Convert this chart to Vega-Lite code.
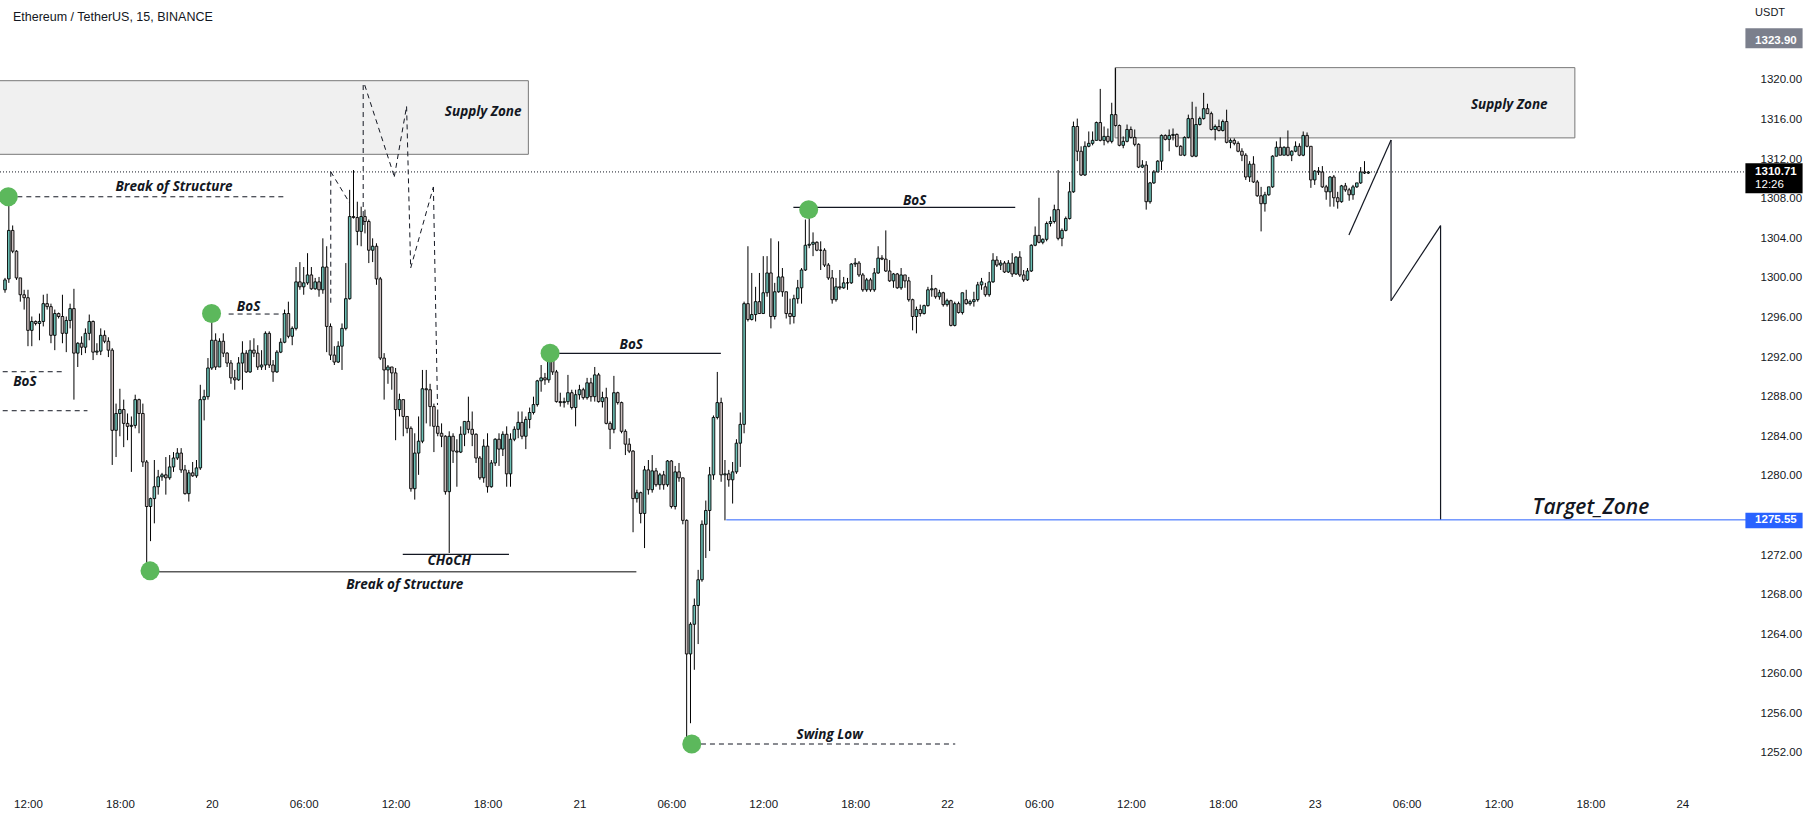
{
"$schema":"https://vega.github.io/schema/vega-lite/v6.json",
"width":1750,"height":790,
"autosize":{"type":"none"},
"padding":{"left":0,"top":0,"right":64,"bottom":28},
"background":"#ffffff",
"config":{"view":{"stroke":null},
 "axis":{"domain":false,"ticks":false,"grid":false,"labelFont":"Liberation Sans","labelFontSize":11.5,"labelColor":"#131722"},
 "axisX":{"labelPadding":8,"labelFlush":false,"labelOverlap":false,"labelAngle":0},
 "axisY":{"labelPadding":10}},
"layer":[
{"data":{"values":[{"t":"2022-10-19 06:00","t2":"2022-10-20 20:40","p":1319.93,"p2":1312.49},{"t":"2022-10-22 10:58","t2":"2022-10-23 16:59","p":1321.25,"p2":1314.15}],"format":{"parse":{"t":"utc:'%Y-%m-%d %H:%M'","t2":"utc:'%Y-%m-%d %H:%M'"}}},
 "mark":{"type":"rect","fill":"#f0f0f0","stroke":"#787878","strokeWidth":1,"clip":true},
 "encoding":{"x":{"field":"t","type":"temporal","scale":{"type":"utc","domain":[{"year":2022,"month":"oct","date":19,"hours":10,"minutes":30,"utc":true},{"year":2022,"month":"oct","date":24,"hours":4,"minutes":5,"seconds":24,"utc":true}]},
   "axis":{"orient":"bottom","title":null,"values":[1666180800000,1666202400000,1666224000000,1666245600000,1666267200000,1666288800000,1666310400000,1666332000000,1666353600000,1666375200000,1666396800000,1666418400000,1666440000000,1666461600000,1666483200000,1666504800000,1666526400000,1666548000000,1666569600000],"labelExpr":"utchours(datum.value) == 0 ? utcFormat(datum.value, '%d') : utcFormat(datum.value, '%H:%M')"}},
  "x2":{"field":"t2"},
  "y":{"field":"p","type":"quantitative","scale":{"domain":[1248.253,1328.084],"zero":false,"nice":false},"axis":{"orient":"right","title":null,"values":[1252,1256,1260,1264,1268,1272,1280,1284,1288,1292,1296,1300,1304,1308,1312,1316,1320],"format":".2f"}},
  "y2":{"field":"p2"}}},
{"data":{"values":[{}]},"mark":{"type":"rule","color":"#131722","strokeDash":[1,2],"strokeWidth":1},
 "encoding":{"y":{"datum":1310.71,"type":"quantitative"}}},
{"data":{"values":[
{"t":"2022-10-19 10:30","o":1298.8,"h":1300.0,"l":1298.5,"c":1299.8},
{"t":"2022-10-19 10:45","o":1299.9,"h":1308.2,"l":1299.5,"c":1304.8},
{"t":"2022-10-19 11:00","o":1304.8,"h":1305.3,"l":1302.5,"c":1302.7},
{"t":"2022-10-19 11:15","o":1302.7,"h":1302.8,"l":1299.8,"c":1300.0},
{"t":"2022-10-19 11:30","o":1300.0,"h":1300.0,"l":1297.6,"c":1298.3},
{"t":"2022-10-19 11:45","o":1298.3,"h":1298.8,"l":1296.8,"c":1298.0},
{"t":"2022-10-19 12:00","o":1298.0,"h":1298.8,"l":1293.1,"c":1294.7},
{"t":"2022-10-19 12:15","o":1294.7,"h":1296.1,"l":1293.1,"c":1295.6},
{"t":"2022-10-19 12:30","o":1295.6,"h":1295.7,"l":1295.2,"c":1295.4},
{"t":"2022-10-19 12:45","o":1295.4,"h":1296.4,"l":1293.7,"c":1295.6},
{"t":"2022-10-19 13:00","o":1295.6,"h":1298.3,"l":1295.1,"c":1297.4},
{"t":"2022-10-19 13:15","o":1297.4,"h":1298.4,"l":1296.8,"c":1297.1},
{"t":"2022-10-19 13:30","o":1297.1,"h":1297.4,"l":1293.4,"c":1294.2},
{"t":"2022-10-19 13:45","o":1294.2,"h":1296.8,"l":1292.7,"c":1296.4},
{"t":"2022-10-19 14:00","o":1296.4,"h":1296.5,"l":1295.9,"c":1296.1},
{"t":"2022-10-19 14:15","o":1296.1,"h":1298.3,"l":1293.4,"c":1294.4},
{"t":"2022-10-19 14:30","o":1294.4,"h":1296.1,"l":1292.5,"c":1295.7},
{"t":"2022-10-19 14:45","o":1295.7,"h":1297.4,"l":1294.9,"c":1296.9},
{"t":"2022-10-19 15:00","o":1296.9,"h":1298.9,"l":1287.7,"c":1292.4},
{"t":"2022-10-19 15:15","o":1292.4,"h":1293.5,"l":1291.0,"c":1293.4},
{"t":"2022-10-19 15:30","o":1293.4,"h":1294.1,"l":1292.2,"c":1293.0},
{"t":"2022-10-19 15:45","o":1293.0,"h":1294.9,"l":1292.4,"c":1294.4},
{"t":"2022-10-19 16:00","o":1294.4,"h":1296.3,"l":1293.7,"c":1295.6},
{"t":"2022-10-19 16:15","o":1295.6,"h":1295.7,"l":1291.7,"c":1292.5},
{"t":"2022-10-19 16:30","o":1292.5,"h":1293.4,"l":1292.2,"c":1292.6},
{"t":"2022-10-19 16:45","o":1292.6,"h":1294.9,"l":1292.2,"c":1294.2},
{"t":"2022-10-19 17:00","o":1294.2,"h":1294.7,"l":1293.4,"c":1293.6},
{"t":"2022-10-19 17:15","o":1293.6,"h":1294.0,"l":1292.0,"c":1292.7},
{"t":"2022-10-19 17:30","o":1292.7,"h":1292.9,"l":1281.1,"c":1284.6},
{"t":"2022-10-19 17:45","o":1284.6,"h":1287.3,"l":1281.9,"c":1286.3},
{"t":"2022-10-19 18:00","o":1286.3,"h":1288.8,"l":1284.0,"c":1286.7},
{"t":"2022-10-19 18:15","o":1286.7,"h":1287.7,"l":1282.9,"c":1285.3},
{"t":"2022-10-19 18:30","o":1285.3,"h":1286.3,"l":1283.6,"c":1285.0},
{"t":"2022-10-19 18:45","o":1285.0,"h":1286.0,"l":1280.4,"c":1285.1},
{"t":"2022-10-19 19:00","o":1285.1,"h":1288.2,"l":1284.8,"c":1287.7},
{"t":"2022-10-19 19:15","o":1287.7,"h":1287.8,"l":1284.3,"c":1286.3},
{"t":"2022-10-19 19:30","o":1286.3,"h":1287.3,"l":1280.9,"c":1281.4},
{"t":"2022-10-19 19:45","o":1281.4,"h":1281.6,"l":1270.5,"c":1276.9},
{"t":"2022-10-19 20:00","o":1276.9,"h":1277.8,"l":1273.4,"c":1277.7},
{"t":"2022-10-19 20:15","o":1277.7,"h":1281.6,"l":1275.2,"c":1278.9},
{"t":"2022-10-19 20:30","o":1278.9,"h":1280.6,"l":1278.1,"c":1279.9},
{"t":"2022-10-19 20:45","o":1279.9,"h":1280.3,"l":1279.5,"c":1280.1},
{"t":"2022-10-19 21:00","o":1280.1,"h":1281.9,"l":1278.1,"c":1279.8},
{"t":"2022-10-19 21:15","o":1279.8,"h":1282.1,"l":1279.6,"c":1280.9},
{"t":"2022-10-19 21:30","o":1280.9,"h":1282.4,"l":1280.4,"c":1281.8},
{"t":"2022-10-19 21:45","o":1281.8,"h":1282.8,"l":1281.6,"c":1282.3},
{"t":"2022-10-19 22:00","o":1282.3,"h":1282.8,"l":1280.3,"c":1280.6},
{"t":"2022-10-19 22:15","o":1280.6,"h":1281.1,"l":1278.1,"c":1278.2},
{"t":"2022-10-19 22:30","o":1278.2,"h":1280.6,"l":1277.4,"c":1280.3},
{"t":"2022-10-19 22:45","o":1280.3,"h":1281.4,"l":1279.9,"c":1280.0},
{"t":"2022-10-19 23:00","o":1280.0,"h":1281.6,"l":1279.8,"c":1280.8},
{"t":"2022-10-19 23:15","o":1280.8,"h":1289.2,"l":1280.6,"c":1287.7},
{"t":"2022-10-19 23:30","o":1287.7,"h":1288.7,"l":1285.6,"c":1288.0},
{"t":"2022-10-19 23:45","o":1288.0,"h":1291.9,"l":1287.7,"c":1290.9},
{"t":"2022-10-20 00:00","o":1290.9,"h":1296.4,"l":1290.7,"c":1293.7},
{"t":"2022-10-20 00:15","o":1293.7,"h":1294.4,"l":1290.7,"c":1291.0},
{"t":"2022-10-20 00:30","o":1291.0,"h":1293.9,"l":1291.0,"c":1293.6},
{"t":"2022-10-20 00:45","o":1293.6,"h":1294.4,"l":1292.0,"c":1292.4},
{"t":"2022-10-20 01:00","o":1292.4,"h":1292.5,"l":1291.0,"c":1291.4},
{"t":"2022-10-20 01:15","o":1291.4,"h":1291.7,"l":1289.3,"c":1289.9},
{"t":"2022-10-20 01:30","o":1289.9,"h":1290.7,"l":1288.7,"c":1289.7},
{"t":"2022-10-20 01:45","o":1289.7,"h":1292.0,"l":1289.6,"c":1291.4},
{"t":"2022-10-20 02:00","o":1291.4,"h":1293.6,"l":1288.7,"c":1292.4},
{"t":"2022-10-20 02:15","o":1292.4,"h":1292.7,"l":1290.4,"c":1290.5},
{"t":"2022-10-20 02:30","o":1290.5,"h":1293.7,"l":1290.4,"c":1292.7},
{"t":"2022-10-20 02:45","o":1292.7,"h":1293.9,"l":1292.0,"c":1292.4},
{"t":"2022-10-20 03:00","o":1292.4,"h":1293.2,"l":1290.7,"c":1291.0},
{"t":"2022-10-20 03:15","o":1291.0,"h":1292.7,"l":1290.7,"c":1291.2},
{"t":"2022-10-20 03:30","o":1291.2,"h":1294.6,"l":1290.7,"c":1294.4},
{"t":"2022-10-20 03:45","o":1294.4,"h":1294.6,"l":1290.9,"c":1291.2},
{"t":"2022-10-20 04:00","o":1291.2,"h":1291.7,"l":1289.5,"c":1290.5},
{"t":"2022-10-20 04:15","o":1290.5,"h":1292.7,"l":1290.4,"c":1292.5},
{"t":"2022-10-20 04:30","o":1292.5,"h":1293.9,"l":1292.4,"c":1293.5},
{"t":"2022-10-20 04:45","o":1293.5,"h":1296.8,"l":1293.4,"c":1296.4},
{"t":"2022-10-20 05:00","o":1296.4,"h":1297.6,"l":1293.9,"c":1294.1},
{"t":"2022-10-20 05:15","o":1294.1,"h":1295.1,"l":1293.2,"c":1294.9},
{"t":"2022-10-20 05:30","o":1294.9,"h":1301.1,"l":1294.7,"c":1299.6},
{"t":"2022-10-20 05:45","o":1299.6,"h":1301.6,"l":1298.8,"c":1299.1},
{"t":"2022-10-20 06:00","o":1299.1,"h":1301.1,"l":1298.3,"c":1299.5},
{"t":"2022-10-20 06:15","o":1299.5,"h":1302.5,"l":1299.3,"c":1300.3},
{"t":"2022-10-20 06:30","o":1300.3,"h":1301.1,"l":1298.8,"c":1298.9},
{"t":"2022-10-20 06:45","o":1298.9,"h":1300.0,"l":1298.8,"c":1299.6},
{"t":"2022-10-20 07:00","o":1299.6,"h":1300.1,"l":1298.1,"c":1298.8},
{"t":"2022-10-20 07:15","o":1298.8,"h":1304.0,"l":1298.4,"c":1301.1},
{"t":"2022-10-20 07:30","o":1301.1,"h":1303.2,"l":1292.5,"c":1295.1},
{"t":"2022-10-20 07:45","o":1295.1,"h":1295.4,"l":1291.7,"c":1292.2},
{"t":"2022-10-20 08:00","o":1292.2,"h":1293.1,"l":1291.2,"c":1291.5},
{"t":"2022-10-20 08:15","o":1291.5,"h":1293.6,"l":1291.4,"c":1293.1},
{"t":"2022-10-20 08:30","o":1293.1,"h":1295.4,"l":1290.7,"c":1294.9},
{"t":"2022-10-20 08:45","o":1294.9,"h":1301.5,"l":1294.7,"c":1297.9},
{"t":"2022-10-20 09:00","o":1297.9,"h":1308.9,"l":1297.8,"c":1306.2},
{"t":"2022-10-20 09:15","o":1306.2,"h":1310.9,"l":1306.0,"c":1306.1},
{"t":"2022-10-20 09:30","o":1306.1,"h":1307.7,"l":1303.3,"c":1304.7},
{"t":"2022-10-20 09:45","o":1304.7,"h":1307.2,"l":1303.2,"c":1306.2},
{"t":"2022-10-20 10:00","o":1306.2,"h":1306.9,"l":1304.5,"c":1305.7},
{"t":"2022-10-20 10:15","o":1305.7,"h":1305.9,"l":1301.5,"c":1302.8},
{"t":"2022-10-20 10:30","o":1302.8,"h":1304.0,"l":1301.6,"c":1303.2},
{"t":"2022-10-20 10:45","o":1303.2,"h":1303.5,"l":1299.3,"c":1299.9},
{"t":"2022-10-20 11:00","o":1299.9,"h":1300.1,"l":1291.7,"c":1291.9},
{"t":"2022-10-20 11:15","o":1291.9,"h":1292.4,"l":1287.7,"c":1290.7},
{"t":"2022-10-20 11:30","o":1290.7,"h":1291.2,"l":1289.3,"c":1291.0},
{"t":"2022-10-20 11:45","o":1291.0,"h":1291.0,"l":1288.7,"c":1290.4},
{"t":"2022-10-20 12:00","o":1290.4,"h":1290.9,"l":1283.6,"c":1286.7},
{"t":"2022-10-20 12:15","o":1286.7,"h":1288.3,"l":1286.0,"c":1287.7},
{"t":"2022-10-20 12:30","o":1287.7,"h":1287.7,"l":1284.0,"c":1286.0},
{"t":"2022-10-20 12:45","o":1286.0,"h":1286.0,"l":1284.3,"c":1284.8},
{"t":"2022-10-20 13:00","o":1284.8,"h":1285.0,"l":1278.4,"c":1278.7},
{"t":"2022-10-20 13:15","o":1278.7,"h":1284.3,"l":1277.6,"c":1282.3},
{"t":"2022-10-20 13:30","o":1282.3,"h":1286.0,"l":1280.1,"c":1283.5},
{"t":"2022-10-20 13:45","o":1283.5,"h":1290.7,"l":1283.3,"c":1288.8},
{"t":"2022-10-20 14:00","o":1288.8,"h":1290.7,"l":1285.3,"c":1288.7},
{"t":"2022-10-20 14:15","o":1288.7,"h":1289.3,"l":1285.0,"c":1287.0},
{"t":"2022-10-20 14:30","o":1287.0,"h":1287.3,"l":1282.4,"c":1285.0},
{"t":"2022-10-20 14:45","o":1285.0,"h":1286.7,"l":1284.0,"c":1284.3},
{"t":"2022-10-20 15:00","o":1284.3,"h":1285.3,"l":1282.9,"c":1284.0},
{"t":"2022-10-20 15:15","o":1284.0,"h":1284.1,"l":1278.1,"c":1278.4},
{"t":"2022-10-20 15:30","o":1278.4,"h":1284.5,"l":1272.2,"c":1284.0},
{"t":"2022-10-20 15:45","o":1284.0,"h":1284.3,"l":1281.3,"c":1282.5},
{"t":"2022-10-20 16:00","o":1282.5,"h":1283.7,"l":1278.9,"c":1282.4},
{"t":"2022-10-20 16:15","o":1282.4,"h":1285.0,"l":1282.3,"c":1284.2},
{"t":"2022-10-20 16:30","o":1284.2,"h":1285.5,"l":1283.0,"c":1285.5},
{"t":"2022-10-20 16:45","o":1285.5,"h":1288.0,"l":1284.3,"c":1284.7},
{"t":"2022-10-20 17:00","o":1284.7,"h":1286.5,"l":1283.0,"c":1284.2},
{"t":"2022-10-20 17:15","o":1284.2,"h":1284.3,"l":1281.3,"c":1281.8},
{"t":"2022-10-20 17:30","o":1281.8,"h":1282.0,"l":1279.6,"c":1279.8},
{"t":"2022-10-20 17:45","o":1279.8,"h":1283.7,"l":1279.3,"c":1283.0},
{"t":"2022-10-20 18:00","o":1283.0,"h":1284.3,"l":1278.3,"c":1278.9},
{"t":"2022-10-20 18:15","o":1278.9,"h":1281.6,"l":1278.8,"c":1281.3},
{"t":"2022-10-20 18:30","o":1281.3,"h":1283.8,"l":1281.0,"c":1283.7},
{"t":"2022-10-20 18:45","o":1283.7,"h":1284.3,"l":1281.0,"c":1282.7},
{"t":"2022-10-20 19:00","o":1282.7,"h":1284.5,"l":1282.0,"c":1284.2},
{"t":"2022-10-20 19:15","o":1284.2,"h":1285.0,"l":1278.9,"c":1280.2},
{"t":"2022-10-20 19:30","o":1280.2,"h":1284.3,"l":1278.9,"c":1283.7},
{"t":"2022-10-20 19:45","o":1283.7,"h":1285.0,"l":1283.5,"c":1284.7},
{"t":"2022-10-20 20:00","o":1284.7,"h":1286.5,"l":1283.8,"c":1285.4},
{"t":"2022-10-20 20:15","o":1285.4,"h":1286.5,"l":1283.7,"c":1284.0},
{"t":"2022-10-20 20:30","o":1284.0,"h":1286.0,"l":1282.7,"c":1285.7},
{"t":"2022-10-20 20:45","o":1285.7,"h":1286.9,"l":1284.8,"c":1286.4},
{"t":"2022-10-20 21:00","o":1286.4,"h":1288.0,"l":1286.2,"c":1287.2},
{"t":"2022-10-20 21:15","o":1287.2,"h":1289.7,"l":1287.0,"c":1289.6},
{"t":"2022-10-20 21:30","o":1289.6,"h":1291.2,"l":1288.5,"c":1289.9},
{"t":"2022-10-20 21:45","o":1289.9,"h":1290.4,"l":1289.2,"c":1289.7},
{"t":"2022-10-20 22:00","o":1289.7,"h":1292.3,"l":1289.4,"c":1291.8},
{"t":"2022-10-20 22:15","o":1291.8,"h":1292.1,"l":1290.2,"c":1290.5},
{"t":"2022-10-20 22:30","o":1290.5,"h":1290.7,"l":1287.4,"c":1287.5},
{"t":"2022-10-20 22:45","o":1287.5,"h":1288.4,"l":1287.0,"c":1287.4},
{"t":"2022-10-20 23:00","o":1287.4,"h":1287.9,"l":1286.9,"c":1287.5},
{"t":"2022-10-20 23:15","o":1287.5,"h":1290.2,"l":1287.2,"c":1288.4},
{"t":"2022-10-20 23:30","o":1288.4,"h":1288.7,"l":1286.7,"c":1286.9},
{"t":"2022-10-20 23:45","o":1286.9,"h":1288.7,"l":1285.0,"c":1288.2},
{"t":"2022-10-21 00:00","o":1288.2,"h":1289.2,"l":1287.7,"c":1288.7},
{"t":"2022-10-21 00:15","o":1288.7,"h":1288.9,"l":1287.7,"c":1287.9},
{"t":"2022-10-21 00:30","o":1287.9,"h":1289.9,"l":1287.7,"c":1289.4},
{"t":"2022-10-21 00:45","o":1289.4,"h":1289.9,"l":1287.5,"c":1288.0},
{"t":"2022-10-21 01:00","o":1288.0,"h":1291.0,"l":1287.5,"c":1290.2},
{"t":"2022-10-21 01:15","o":1290.2,"h":1290.4,"l":1287.4,"c":1287.5},
{"t":"2022-10-21 01:30","o":1287.5,"h":1288.5,"l":1286.9,"c":1287.9},
{"t":"2022-10-21 01:45","o":1287.9,"h":1288.9,"l":1285.2,"c":1285.3},
{"t":"2022-10-21 02:00","o":1285.3,"h":1285.5,"l":1282.7,"c":1284.7},
{"t":"2022-10-21 02:15","o":1284.7,"h":1290.1,"l":1284.3,"c":1288.4},
{"t":"2022-10-21 02:30","o":1288.4,"h":1288.5,"l":1287.2,"c":1287.4},
{"t":"2022-10-21 02:45","o":1287.4,"h":1287.5,"l":1284.3,"c":1284.5},
{"t":"2022-10-21 03:00","o":1284.5,"h":1284.7,"l":1282.1,"c":1283.2},
{"t":"2022-10-21 03:15","o":1283.2,"h":1283.8,"l":1282.3,"c":1282.5},
{"t":"2022-10-21 03:30","o":1282.5,"h":1282.6,"l":1274.3,"c":1277.7},
{"t":"2022-10-21 03:45","o":1277.7,"h":1278.6,"l":1277.3,"c":1278.3},
{"t":"2022-10-21 04:00","o":1278.3,"h":1278.4,"l":1275.2,"c":1276.2},
{"t":"2022-10-21 04:15","o":1276.2,"h":1281.0,"l":1272.7,"c":1280.6},
{"t":"2022-10-21 04:30","o":1280.6,"h":1281.6,"l":1278.1,"c":1278.6},
{"t":"2022-10-21 04:45","o":1278.6,"h":1282.1,"l":1278.3,"c":1280.5},
{"t":"2022-10-21 05:00","o":1280.5,"h":1280.8,"l":1278.9,"c":1279.1},
{"t":"2022-10-21 05:15","o":1279.1,"h":1280.3,"l":1278.6,"c":1280.1},
{"t":"2022-10-21 05:30","o":1280.1,"h":1280.5,"l":1278.6,"c":1279.1},
{"t":"2022-10-21 05:45","o":1279.1,"h":1281.6,"l":1278.9,"c":1281.5},
{"t":"2022-10-21 06:00","o":1281.5,"h":1281.6,"l":1276.7,"c":1276.9},
{"t":"2022-10-21 06:15","o":1276.9,"h":1281.0,"l":1276.6,"c":1280.4},
{"t":"2022-10-21 06:30","o":1280.4,"h":1281.3,"l":1279.4,"c":1279.8},
{"t":"2022-10-21 06:45","o":1279.8,"h":1279.8,"l":1275.1,"c":1275.5},
{"t":"2022-10-21 07:00","o":1275.5,"h":1275.6,"l":1252.7,"c":1262.0},
{"t":"2022-10-21 07:15","o":1262.0,"h":1265.2,"l":1255.0,"c":1265.0},
{"t":"2022-10-21 07:30","o":1265.0,"h":1267.6,"l":1260.4,"c":1266.9},
{"t":"2022-10-21 07:45","o":1266.9,"h":1270.5,"l":1263.0,"c":1269.5},
{"t":"2022-10-21 08:00","o":1269.5,"h":1275.5,"l":1269.3,"c":1275.1},
{"t":"2022-10-21 08:15","o":1275.1,"h":1277.5,"l":1271.7,"c":1276.5},
{"t":"2022-10-21 08:30","o":1276.5,"h":1280.9,"l":1272.4,"c":1280.1},
{"t":"2022-10-21 08:45","o":1280.1,"h":1286.1,"l":1279.6,"c":1285.9},
{"t":"2022-10-21 09:00","o":1285.9,"h":1290.5,"l":1285.7,"c":1287.4},
{"t":"2022-10-21 09:15","o":1287.4,"h":1287.9,"l":1279.4,"c":1280.1},
{"t":"2022-10-21 09:30","o":1280.1,"h":1281.6,"l":1275.5,"c":1280.2},
{"t":"2022-10-21 09:45","o":1280.2,"h":1280.6,"l":1278.9,"c":1279.6},
{"t":"2022-10-21 10:00","o":1279.6,"h":1281.4,"l":1277.2,"c":1280.4},
{"t":"2022-10-21 10:15","o":1280.4,"h":1283.7,"l":1280.2,"c":1283.3},
{"t":"2022-10-21 10:30","o":1283.3,"h":1286.4,"l":1280.9,"c":1285.2},
{"t":"2022-10-21 10:45","o":1285.2,"h":1297.6,"l":1284.3,"c":1297.4},
{"t":"2022-10-21 11:00","o":1297.4,"h":1303.2,"l":1295.6,"c":1295.8},
{"t":"2022-10-21 11:15","o":1295.8,"h":1300.5,"l":1295.7,"c":1296.3},
{"t":"2022-10-21 11:30","o":1296.3,"h":1299.1,"l":1295.6,"c":1297.6},
{"t":"2022-10-21 11:45","o":1297.6,"h":1300.5,"l":1296.4,"c":1296.4},
{"t":"2022-10-21 12:00","o":1296.4,"h":1302.2,"l":1296.4,"c":1298.5},
{"t":"2022-10-21 12:15","o":1298.5,"h":1302.2,"l":1298.1,"c":1300.5},
{"t":"2022-10-21 12:30","o":1300.5,"h":1304.0,"l":1294.9,"c":1296.1},
{"t":"2022-10-21 12:45","o":1296.1,"h":1299.5,"l":1295.8,"c":1298.6},
{"t":"2022-10-21 13:00","o":1298.6,"h":1303.7,"l":1298.5,"c":1300.1},
{"t":"2022-10-21 13:15","o":1300.1,"h":1301.0,"l":1298.1,"c":1298.6},
{"t":"2022-10-21 13:30","o":1298.6,"h":1298.6,"l":1295.9,"c":1296.4},
{"t":"2022-10-21 13:45","o":1296.4,"h":1297.9,"l":1295.3,"c":1296.1},
{"t":"2022-10-21 14:00","o":1296.1,"h":1298.3,"l":1295.4,"c":1297.9},
{"t":"2022-10-21 14:15","o":1297.9,"h":1299.8,"l":1297.4,"c":1299.0},
{"t":"2022-10-21 14:30","o":1299.0,"h":1301.0,"l":1297.4,"c":1300.8},
{"t":"2022-10-21 14:45","o":1300.8,"h":1305.9,"l":1300.7,"c":1303.3},
{"t":"2022-10-21 15:00","o":1303.3,"h":1307.0,"l":1303.0,"c":1303.4},
{"t":"2022-10-21 15:15","o":1303.4,"h":1304.6,"l":1302.2,"c":1303.6},
{"t":"2022-10-21 15:30","o":1303.6,"h":1303.7,"l":1302.7,"c":1302.8},
{"t":"2022-10-21 15:45","o":1302.8,"h":1303.7,"l":1300.8,"c":1302.8},
{"t":"2022-10-21 16:00","o":1302.8,"h":1303.0,"l":1301.1,"c":1301.3},
{"t":"2022-10-21 16:15","o":1301.3,"h":1301.5,"l":1299.8,"c":1300.0},
{"t":"2022-10-21 16:30","o":1300.0,"h":1300.8,"l":1297.4,"c":1297.8},
{"t":"2022-10-21 16:45","o":1297.8,"h":1300.0,"l":1297.6,"c":1299.1},
{"t":"2022-10-21 17:00","o":1299.1,"h":1300.8,"l":1298.8,"c":1299.0},
{"t":"2022-10-21 17:15","o":1299.0,"h":1300.1,"l":1298.9,"c":1299.5},
{"t":"2022-10-21 17:30","o":1299.5,"h":1300.0,"l":1298.8,"c":1299.5},
{"t":"2022-10-21 17:45","o":1299.5,"h":1301.5,"l":1299.4,"c":1301.4},
{"t":"2022-10-21 18:00","o":1301.4,"h":1302.0,"l":1301.1,"c":1301.5},
{"t":"2022-10-21 18:15","o":1301.5,"h":1301.7,"l":1300.1,"c":1300.3},
{"t":"2022-10-21 18:30","o":1300.3,"h":1300.5,"l":1298.6,"c":1298.8},
{"t":"2022-10-21 18:45","o":1298.8,"h":1300.0,"l":1298.6,"c":1299.8},
{"t":"2022-10-21 19:00","o":1299.8,"h":1300.0,"l":1298.6,"c":1298.8},
{"t":"2022-10-21 19:15","o":1298.8,"h":1301.0,"l":1298.6,"c":1300.5},
{"t":"2022-10-21 19:30","o":1300.5,"h":1303.2,"l":1300.4,"c":1302.0},
{"t":"2022-10-21 19:45","o":1302.0,"h":1302.3,"l":1301.8,"c":1301.9},
{"t":"2022-10-21 20:00","o":1301.9,"h":1304.8,"l":1300.6,"c":1300.7},
{"t":"2022-10-21 20:15","o":1300.7,"h":1301.8,"l":1299.6,"c":1299.7},
{"t":"2022-10-21 20:30","o":1299.7,"h":1300.5,"l":1299.0,"c":1300.4},
{"t":"2022-10-21 20:45","o":1300.4,"h":1300.5,"l":1298.9,"c":1299.0},
{"t":"2022-10-21 21:00","o":1299.0,"h":1301.0,"l":1298.8,"c":1300.3},
{"t":"2022-10-21 21:15","o":1300.3,"h":1300.3,"l":1299.0,"c":1299.7},
{"t":"2022-10-21 21:30","o":1299.7,"h":1300.1,"l":1297.6,"c":1297.8},
{"t":"2022-10-21 21:45","o":1297.8,"h":1297.9,"l":1294.7,"c":1296.1},
{"t":"2022-10-21 22:00","o":1296.1,"h":1297.1,"l":1294.4,"c":1296.8},
{"t":"2022-10-21 22:15","o":1296.8,"h":1297.3,"l":1296.1,"c":1296.4},
{"t":"2022-10-21 22:30","o":1296.4,"h":1297.3,"l":1296.3,"c":1297.2},
{"t":"2022-10-21 22:45","o":1297.2,"h":1299.1,"l":1297.1,"c":1298.8},
{"t":"2022-10-21 23:00","o":1298.8,"h":1300.3,"l":1298.1,"c":1298.9},
{"t":"2022-10-21 23:15","o":1298.9,"h":1299.0,"l":1297.9,"c":1298.1},
{"t":"2022-10-21 23:30","o":1298.1,"h":1298.8,"l":1297.8,"c":1298.5},
{"t":"2022-10-21 23:45","o":1298.5,"h":1298.6,"l":1297.1,"c":1297.3},
{"t":"2022-10-22 00:00","o":1297.3,"h":1297.9,"l":1297.1,"c":1297.7},
{"t":"2022-10-22 00:15","o":1297.7,"h":1297.8,"l":1295.1,"c":1295.2},
{"t":"2022-10-22 00:30","o":1295.2,"h":1297.6,"l":1295.1,"c":1297.4},
{"t":"2022-10-22 00:45","o":1297.4,"h":1297.6,"l":1296.4,"c":1296.5},
{"t":"2022-10-22 01:00","o":1296.5,"h":1298.5,"l":1296.3,"c":1298.5},
{"t":"2022-10-22 01:15","o":1297.8,"h":1298.8,"l":1297.3,"c":1297.4},
{"t":"2022-10-22 01:30","o":1297.4,"h":1297.8,"l":1297.2,"c":1297.6},
{"t":"2022-10-22 01:45","o":1297.6,"h":1298.6,"l":1297.1,"c":1297.8},
{"t":"2022-10-22 02:00","o":1297.8,"h":1299.6,"l":1297.6,"c":1299.3},
{"t":"2022-10-22 02:15","o":1299.3,"h":1300.0,"l":1298.8,"c":1299.6},
{"t":"2022-10-22 02:30","o":1299.1,"h":1299.5,"l":1298.1,"c":1298.3},
{"t":"2022-10-22 02:45","o":1298.3,"h":1300.6,"l":1298.1,"c":1299.6},
{"t":"2022-10-22 03:00","o":1299.6,"h":1302.5,"l":1299.5,"c":1301.8},
{"t":"2022-10-22 03:15","o":1301.8,"h":1302.2,"l":1301.1,"c":1301.3},
{"t":"2022-10-22 03:30","o":1301.3,"h":1301.8,"l":1300.8,"c":1301.5},
{"t":"2022-10-22 03:45","o":1301.5,"h":1301.7,"l":1300.5,"c":1300.6},
{"t":"2022-10-22 04:00","o":1300.6,"h":1301.8,"l":1300.5,"c":1301.5},
{"t":"2022-10-22 04:15","o":1301.5,"h":1302.5,"l":1300.1,"c":1300.4},
{"t":"2022-10-22 04:30","o":1300.4,"h":1302.2,"l":1300.3,"c":1302.1},
{"t":"2022-10-22 04:45","o":1302.1,"h":1302.7,"l":1300.1,"c":1300.3},
{"t":"2022-10-22 05:00","o":1300.3,"h":1300.8,"l":1299.6,"c":1299.8},
{"t":"2022-10-22 05:15","o":1299.8,"h":1301.0,"l":1299.7,"c":1300.7},
{"t":"2022-10-22 05:30","o":1300.7,"h":1303.4,"l":1300.6,"c":1303.3},
{"t":"2022-10-22 05:45","o":1303.3,"h":1305.2,"l":1303.2,"c":1304.3},
{"t":"2022-10-22 06:00","o":1304.3,"h":1308.1,"l":1303.5,"c":1303.6},
{"t":"2022-10-22 06:15","o":1303.6,"h":1304.0,"l":1303.4,"c":1303.9},
{"t":"2022-10-22 06:30","o":1303.9,"h":1305.7,"l":1303.7,"c":1305.5},
{"t":"2022-10-22 06:45","o":1305.5,"h":1306.2,"l":1305.2,"c":1305.7},
{"t":"2022-10-22 07:00","o":1305.7,"h":1307.4,"l":1305.5,"c":1306.9},
{"t":"2022-10-22 07:15","o":1306.9,"h":1310.9,"l":1303.8,"c":1304.0},
{"t":"2022-10-22 07:30","o":1304.0,"h":1305.0,"l":1303.2,"c":1304.8},
{"t":"2022-10-22 07:45","o":1304.8,"h":1306.2,"l":1304.7,"c":1306.0},
{"t":"2022-10-22 08:00","o":1306.0,"h":1309.7,"l":1305.9,"c":1308.7},
{"t":"2022-10-22 08:15","o":1308.7,"h":1315.8,"l":1308.6,"c":1315.3},
{"t":"2022-10-22 08:30","o":1315.3,"h":1316.1,"l":1311.8,"c":1312.8},
{"t":"2022-10-22 08:45","o":1312.8,"h":1313.3,"l":1310.3,"c":1310.4},
{"t":"2022-10-22 09:00","o":1310.4,"h":1313.8,"l":1310.3,"c":1313.3},
{"t":"2022-10-22 09:15","o":1313.3,"h":1314.8,"l":1313.2,"c":1313.6},
{"t":"2022-10-22 09:30","o":1313.6,"h":1314.8,"l":1313.4,"c":1313.9},
{"t":"2022-10-22 09:45","o":1313.9,"h":1315.8,"l":1313.9,"c":1315.7},
{"t":"2022-10-22 10:00","o":1315.7,"h":1319.1,"l":1313.8,"c":1313.9},
{"t":"2022-10-22 10:15","o":1313.9,"h":1315.3,"l":1313.4,"c":1314.3},
{"t":"2022-10-22 10:30","o":1314.3,"h":1315.1,"l":1313.6,"c":1313.8},
{"t":"2022-10-22 10:45","o":1313.8,"h":1317.7,"l":1313.6,"c":1316.5},
{"t":"2022-10-22 11:00","o":1316.5,"h":1321.2,"l":1315.3,"c":1315.4},
{"t":"2022-10-22 11:15","o":1315.4,"h":1315.5,"l":1313.3,"c":1313.4},
{"t":"2022-10-22 11:30","o":1313.4,"h":1314.3,"l":1313.1,"c":1313.8},
{"t":"2022-10-22 11:45","o":1313.8,"h":1315.5,"l":1313.7,"c":1315.0},
{"t":"2022-10-22 12:00","o":1315.0,"h":1315.3,"l":1314.1,"c":1314.2},
{"t":"2022-10-22 12:15","o":1314.2,"h":1315.0,"l":1313.3,"c":1313.5},
{"t":"2022-10-22 12:30","o":1313.5,"h":1313.6,"l":1311.1,"c":1311.2},
{"t":"2022-10-22 12:45","o":1311.2,"h":1311.9,"l":1311.1,"c":1311.4},
{"t":"2022-10-22 13:00","o":1311.4,"h":1311.8,"l":1306.9,"c":1307.7},
{"t":"2022-10-22 13:15","o":1307.7,"h":1309.7,"l":1307.5,"c":1309.6},
{"t":"2022-10-22 13:30","o":1309.6,"h":1310.9,"l":1309.5,"c":1310.7},
{"t":"2022-10-22 13:45","o":1310.7,"h":1311.9,"l":1310.7,"c":1311.8},
{"t":"2022-10-22 14:00","o":1311.8,"h":1314.5,"l":1310.9,"c":1314.4},
{"t":"2022-10-22 14:15","o":1314.4,"h":1314.5,"l":1313.9,"c":1314.0},
{"t":"2022-10-22 14:30","o":1314.0,"h":1315.0,"l":1312.8,"c":1314.4},
{"t":"2022-10-22 14:45","o":1314.4,"h":1315.1,"l":1313.9,"c":1314.5},
{"t":"2022-10-22 15:00","o":1314.5,"h":1314.6,"l":1313.2,"c":1313.3},
{"t":"2022-10-22 15:15","o":1313.3,"h":1313.4,"l":1312.4,"c":1312.4},
{"t":"2022-10-22 15:30","o":1312.4,"h":1314.3,"l":1312.3,"c":1314.2},
{"t":"2022-10-22 15:45","o":1314.2,"h":1316.5,"l":1314.1,"c":1316.1},
{"t":"2022-10-22 16:00","o":1316.1,"h":1317.8,"l":1312.2,"c":1312.3},
{"t":"2022-10-22 16:15","o":1312.3,"h":1317.3,"l":1312.2,"c":1315.5},
{"t":"2022-10-22 16:30","o":1315.5,"h":1316.3,"l":1315.4,"c":1316.1},
{"t":"2022-10-22 16:45","o":1316.1,"h":1318.7,"l":1316.0,"c":1317.1},
{"t":"2022-10-22 17:00","o":1317.1,"h":1317.6,"l":1316.6,"c":1316.6},
{"t":"2022-10-22 17:15","o":1316.6,"h":1316.8,"l":1314.9,"c":1315.0},
{"t":"2022-10-22 17:30","o":1315.0,"h":1315.5,"l":1313.9,"c":1315.3},
{"t":"2022-10-22 17:45","o":1315.3,"h":1316.0,"l":1314.8,"c":1314.9},
{"t":"2022-10-22 18:00","o":1314.9,"h":1316.0,"l":1314.8,"c":1315.8},
{"t":"2022-10-22 18:15","o":1315.8,"h":1317.0,"l":1313.6,"c":1313.7},
{"t":"2022-10-22 18:30","o":1313.7,"h":1314.1,"l":1313.1,"c":1313.9},
{"t":"2022-10-22 18:45","o":1313.9,"h":1314.1,"l":1313.4,"c":1313.6},
{"t":"2022-10-22 19:00","o":1313.6,"h":1313.8,"l":1312.7,"c":1312.8},
{"t":"2022-10-22 19:15","o":1312.8,"h":1313.1,"l":1311.8,"c":1312.4},
{"t":"2022-10-22 19:30","o":1312.4,"h":1312.6,"l":1309.9,"c":1310.2},
{"t":"2022-10-22 19:45","o":1310.2,"h":1311.8,"l":1309.7,"c":1311.5},
{"t":"2022-10-22 20:00","o":1311.5,"h":1312.3,"l":1309.6,"c":1309.7},
{"t":"2022-10-22 20:15","o":1309.7,"h":1309.9,"l":1308.2,"c":1308.3},
{"t":"2022-10-22 20:30","o":1308.3,"h":1309.2,"l":1304.7,"c":1307.5},
{"t":"2022-10-22 20:45","o":1307.5,"h":1308.7,"l":1306.7,"c":1308.4},
{"t":"2022-10-22 21:00","o":1308.4,"h":1309.2,"l":1308.3,"c":1309.2},
{"t":"2022-10-22 21:15","o":1309.2,"h":1312.4,"l":1309.1,"c":1312.3},
{"t":"2022-10-22 21:30","o":1312.3,"h":1313.8,"l":1312.3,"c":1313.2},
{"t":"2022-10-22 21:45","o":1313.2,"h":1314.2,"l":1312.4,"c":1312.4},
{"t":"2022-10-22 22:00","o":1312.4,"h":1313.3,"l":1312.4,"c":1313.2},
{"t":"2022-10-22 22:15","o":1313.2,"h":1314.9,"l":1312.3,"c":1312.4},
{"t":"2022-10-22 22:30","o":1312.4,"h":1312.9,"l":1311.8,"c":1312.8},
{"t":"2022-10-22 22:45","o":1312.8,"h":1313.8,"l":1312.7,"c":1313.3},
{"t":"2022-10-22 23:00","o":1313.3,"h":1313.6,"l":1312.3,"c":1312.4},
{"t":"2022-10-22 23:15","o":1312.4,"h":1314.8,"l":1312.3,"c":1314.4},
{"t":"2022-10-22 23:30","o":1314.4,"h":1314.7,"l":1313.2,"c":1313.3},
{"t":"2022-10-22 23:45","o":1313.3,"h":1313.3,"l":1309.1,"c":1309.9},
{"t":"2022-10-23 00:00","o":1309.9,"h":1310.9,"l":1309.4,"c":1310.8},
{"t":"2022-10-23 00:15","o":1310.8,"h":1311.2,"l":1310.4,"c":1310.7},
{"t":"2022-10-23 00:30","o":1310.7,"h":1311.3,"l":1309.1,"c":1309.2},
{"t":"2022-10-23 00:45","o":1309.2,"h":1309.4,"l":1307.9,"c":1308.7},
{"t":"2022-10-23 01:00","o":1308.7,"h":1310.3,"l":1307.2,"c":1310.2},
{"t":"2022-10-23 01:15","o":1310.2,"h":1310.4,"l":1307.2,"c":1308.1},
{"t":"2022-10-23 01:30","o":1308.1,"h":1308.7,"l":1307.0,"c":1307.7},
{"t":"2022-10-23 01:45","o":1307.7,"h":1309.4,"l":1307.6,"c":1309.3},
{"t":"2022-10-23 02:00","o":1309.3,"h":1309.6,"l":1308.7,"c":1308.9},
{"t":"2022-10-23 02:15","o":1308.9,"h":1309.1,"l":1307.8,"c":1308.4},
{"t":"2022-10-23 02:30","o":1308.4,"h":1309.4,"l":1307.9,"c":1309.2},
{"t":"2022-10-23 02:45","o":1309.2,"h":1309.6,"l":1309.1,"c":1309.6},
{"t":"2022-10-23 03:00","o":1309.6,"h":1311.2,"l":1309.5,"c":1310.7},
{"t":"2022-10-23 03:15","o":1310.7,"h":1311.8,"l":1310.5,"c":1310.6},
{"t":"2022-10-23 03:30","o":1310.6,"h":1310.8,"l":1310.5,"c":1310.7}
],"format":{"parse":{"t":"utc:'%Y-%m-%d %H:%M'"}}},
"layer":[
{"mark":{"type":"rule","color":"#000000","strokeWidth":1,"clip":true},
 "encoding":{"x":{"field":"t","type":"temporal"},"y":{"field":"l","type":"quantitative"},"y2":{"field":"h"}}},
{"mark":{"type":"bar","size":2.6,"stroke":"#000000","strokeWidth":0.9,"clip":true},
 "encoding":{"x":{"field":"t","type":"temporal"},"y":{"field":"o","type":"quantitative"},"y2":{"field":"c"},
  "fill":{"condition":{"test":"datum.c >= datum.o","value":"#6cbfb5"},"value":"#c9bdbd"}}}
]},
{"data":{"values":[
{"t":"2022-10-20 12:28","t2":"2022-10-20 19:24","p":1272.07,"p2":1272.07},
{"t":"2022-10-20 22:05","t2":"2022-10-21 09:14","p":1292.38,"p2":1292.38},
{"t":"2022-10-21 13:58","t2":"2022-10-22 04:27","p":1307.13,"p2":1307.13},
{"t":"2022-10-23 02:14","t2":"2022-10-23 04:59","p":1304.34,"p2":1313.94},
{"t":"2022-10-23 04:59","t2":"2022-10-23 04:59","p":1313.94,"p2":1297.69},
{"t":"2022-10-23 04:59","t2":"2022-10-23 08:13","p":1297.69,"p2":1305.29},
{"t":"2022-10-23 08:13","t2":"2022-10-23 08:13","p":1305.29,"p2":1275.55},
{"t":"2022-10-19 19:58","t2":"2022-10-21 03:43","p":1270.3,"p2":1270.3},
{"t":"2022-10-21 09:35","t2":"2022-10-24 06:00","p":1275.55,"p2":1275.55}],"format":{"parse":{"t":"utc:'%Y-%m-%d %H:%M'","t2":"utc:'%Y-%m-%d %H:%M'"}}},
 "mark":{"type":"rule","clip":true},
 "encoding":{"x":{"field":"t","type":"temporal"},"x2":{"field":"t2"},"y":{"field":"p","type":"quantitative"},"y2":{"field":"p2"},
  "color":{"condition":[{"test":"datum.p == 1275.55","value":"#2962ff"},{"test":"datum.p == 1270.3","value":"#5a5a5a"}],"value":"#131722"},
  "strokeWidth":{"condition":[{"test":"datum.p == 1275.55","value":1},{"test":"datum.p == 1270.3","value":1.6}],"value":1.2}}},
{"data":{"values":[
{"t":"2022-10-19 10:43","t2":"2022-10-20 04:52","p":1308.2,"p2":1308.2},
{"t":"2022-10-20 01:06","t2":"2022-10-20 04:40","p":1296.35,"p2":1296.35},
{"t":"2022-10-19 08:00","t2":"2022-10-19 14:16","p":1290.52,"p2":1290.52},
{"t":"2022-10-19 08:00","t2":"2022-10-19 15:53","p":1286.58,"p2":1286.58},
{"t":"2022-10-21 07:56","t2":"2022-10-22 00:32","p":1252.9,"p2":1252.9},
{"t":"2022-10-20 07:46","t2":"2022-10-20 09:00","p":1310.73,"p2":1307.57},
{"t":"2022-10-20 07:46","t2":"2022-10-20 07:46","p":1310.73,"p2":1297.2},
{"t":"2022-10-20 09:53","t2":"2022-10-20 09:53","p":1319.49,"p2":1305.0},
{"t":"2022-10-20 09:59","t2":"2022-10-20 11:55","p":1319.49,"p2":1310.23},
{"t":"2022-10-20 11:55","t2":"2022-10-20 12:43","p":1310.23,"p2":1317.33},
{"t":"2022-10-20 12:43","t2":"2022-10-20 12:59","p":1317.33,"p2":1301.0},
{"t":"2022-10-20 12:59","t2":"2022-10-20 14:28","p":1301.0,"p2":1309.19},
{"t":"2022-10-20 14:28","t2":"2022-10-20 14:44","p":1309.19,"p2":1287.16}],"format":{"parse":{"t":"utc:'%Y-%m-%d %H:%M'","t2":"utc:'%Y-%m-%d %H:%M'"}}},
 "mark":{"type":"rule","color":"#131722","strokeWidth":1,"strokeDash":[5,4],"clip":true},
 "encoding":{"x":{"field":"t","type":"temporal"},"x2":{"field":"t2"},"y":{"field":"p","type":"quantitative"},"y2":{"field":"p2"}}},
{"data":{"values":[
{"t":"2022-10-19 10:43","p":1308.2},{"t":"2022-10-19 23:59","p":1296.4},{"t":"2022-10-19 19:58","p":1270.4},
{"t":"2022-10-20 22:05","p":1292.4},{"t":"2022-10-21 07:20","p":1252.9},{"t":"2022-10-21 14:58","p":1306.9}],"format":{"parse":{"t":"utc:'%Y-%m-%d %H:%M'"}}},
 "mark":{"type":"point","filled":true,"opacity":1,"color":"#5cb85c","size":360,"clip":true},
 "encoding":{"x":{"field":"t","type":"temporal"},"y":{"field":"p","type":"quantitative"}}},
{"data":{"values":[
{"t":"2022-10-20 17:43","p":1316.77,"label":"Supply Zone"},
{"t":"2022-10-23 12:42","p":1317.47,"label":"Supply Zone"},
{"t":"2022-10-19 21:32","p":1309.22,"label":"Break of Structure"},
{"t":"2022-10-20 02:24","p":1297.1,"label":"BoS"},
{"t":"2022-10-19 11:48","p":1289.5,"label":"BoS"},
{"t":"2022-10-20 12:36","p":1268.97,"label":"Break of Structure"},
{"t":"2022-10-20 15:30","p":1271.4,"label":"CHoCH"},
{"t":"2022-10-21 03:23","p":1293.2,"label":"BoS"},
{"t":"2022-10-21 21:53","p":1307.8,"label":"BoS"},
{"t":"2022-10-21 16:20","p":1253.85,"label":"Swing Low"}],"format":{"parse":{"t":"utc:'%Y-%m-%d %H:%M'"}}},
 "mark":{"type":"text","font":"Open Sans","fontSize":13.5,"fontWeight":"bold","fontStyle":"italic","color":"#131722","align":"center","baseline":"middle","clip":true},
 "encoding":{"x":{"field":"t","type":"temporal"},"y":{"field":"p","type":"quantitative"},"text":{"field":"label"}}},
{"data":{"values":[{"t":"2022-10-23 18:02","p":1276.75,"label":"Target_Zone"}],"format":{"parse":{"t":"utc:'%Y-%m-%d %H:%M'"}}},
 "mark":{"type":"text","font":"Open Sans","fontSize":21,"fontWeight":600,"fontStyle":"italic","color":"#131722","align":"center","baseline":"middle","clip":true},
 "encoding":{"x":{"field":"t","type":"temporal"},"y":{"field":"p","type":"quantitative"},"text":{"field":"label"}}},
{"data":{"values":[{"t":"2022-10-24 04:07","t2":"2022-10-24 07:51","p":1311.58,"p2":1308.55},{"t":"2022-10-24 04:07","t2":"2022-10-24 07:51","p":1276.28,"p2":1274.7},{"t":"2022-10-24 04:07","t2":"2022-10-24 07:51","p":1325.22,"p2":1323.2}],"format":{"parse":{"t":"utc:'%Y-%m-%d %H:%M'","t2":"utc:'%Y-%m-%d %H:%M'"}}},
 "mark":{"type":"rect","clip":false},
 "encoding":{"x":{"field":"t","type":"temporal"},"x2":{"field":"t2"},"y":{"field":"p","type":"quantitative"},"y2":{"field":"p2"},
  "fill":{"condition":[{"test":"datum.p > 1320","value":"#7b7f8c"},{"test":"datum.p > 1300","value":"#000000"}],"value":"#2962ff"}}},
{"data":{"values":[{"t":"2022-10-24 04:45","p":1310.74,"label":"1310.71"},{"t":"2022-10-24 04:45","p":1275.5,"label":"1275.55"},{"t":"2022-10-24 04:45","p":1323.97,"label":"1323.90"}],"format":{"parse":{"t":"utc:'%Y-%m-%d %H:%M'"}}},
 "mark":{"type":"text","font":"Liberation Sans","fontSize":11.5,"fontWeight":"bold","color":"#ffffff","align":"left","baseline":"middle","clip":false},
 "encoding":{"x":{"field":"t","type":"temporal"},"y":{"field":"p","type":"quantitative"},"text":{"field":"label"}}},
{"data":{"values":[{"t":"2022-10-19 11:01","p":1326.37,"label":"Ethereum / TetherUS, 15, BINANCE"},{"t":"2022-10-24 04:45","p":1309.39,"label":"12:26"},{"t":"2022-10-24 04:45","p":1326.74,"label":"USDT"}],"format":{"parse":{"t":"utc:'%Y-%m-%d %H:%M'"}}},
 "mark":{"type":"text","font":"Liberation Sans","align":"left","baseline":"middle","clip":false},
 "encoding":{"x":{"field":"t","type":"temporal"},"y":{"field":"p","type":"quantitative"},"text":{"field":"label"},
  "color":{"condition":{"test":"datum.label == '12:26'","value":"#ffffff"},"value":"#131722"},
  "size":{"condition":[{"test":"datum.label == 'USDT'","value":11},{"test":"datum.label == '12:26'","value":11.5}],"value":12.5}}}
]
}
